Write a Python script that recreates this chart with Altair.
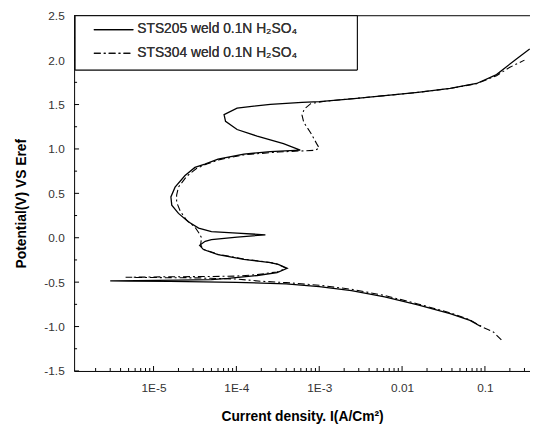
import altair as alt
import pandas as pd

# ---- data (current density in A/cm2, potential in V) ----
sts205_current = [0.0891, 0.0661, 0.0380, 0.0155, 0.00617, 0.00245, 0.00100, 3.98e-4, 1.0e-4,
                  1.58e-5, 5.0e-6, 3.0e-6, 6.3e-6, 2.0e-5, 5.0e-5, 7.9e-5, 1.78e-4, 3.1e-4,
                  4.1e-4, 3.2e-4, 2.57e-4, 1.23e-4, 6.0e-5, 4.0e-5, 3.6e-5, 4.2e-5, 5.0e-5,
                  1.02e-4, 2.24e-4, 1.02e-4, 5.0e-5, 3.5e-5, 2.63e-5, 2.0e-5, 1.66e-5, 1.62e-5,
                  1.82e-5, 2.4e-5, 3.16e-5, 4.17e-5, 6.0e-5, 1.23e-4, 2.57e-4, 5.9e-4, 3.7e-4,
                  1.78e-4, 1.02e-4, 7.4e-5, 7.1e-5, 1.02e-4, 2.57e-4, 6.2e-4, 1.0e-3, 2.45e-3,
                  6.17e-3, 0.0155, 0.038, 0.0794, 0.138, 0.24, 0.347]
sts205_potential = [-1.00, -0.93, -0.855, -0.755, -0.665, -0.595, -0.55, -0.52, -0.502,
                    -0.492, -0.488, -0.485, -0.482, -0.478, -0.472, -0.458, -0.425, -0.392,
                    -0.344, -0.30, -0.281, -0.244, -0.189, -0.133, -0.085, -0.04, -0.022,
                    0.008, 0.033, 0.052, 0.07, 0.108, 0.181, 0.274, 0.367, 0.46,
                    0.57, 0.70, 0.792, 0.83, 0.885, 0.941, 0.970, 0.986, 1.059,
                    1.144, 1.219, 1.311, 1.386, 1.459, 1.503, 1.525, 1.533, 1.563,
                    1.60, 1.637, 1.681, 1.737, 1.837, 2.014, 2.126]

sts304_current = [0.158, 0.126, 0.0955, 0.066, 0.038, 0.0155, 0.00617, 0.00245, 0.001,
                  3.98e-4, 2.0e-4, 1.0e-4, 3.16e-5, 1.0e-5, 4.6e-6, 1.26e-5, 4.0e-5, 1.0e-4,
                  1.78e-4, 3.1e-4, 4.0e-4, 3.2e-4, 2.57e-4, 1.23e-4, 6.0e-5, 4.0e-5, 3.7e-5,
                  3.8e-5, 3.5e-5, 3.16e-5, 2.5e-5, 2.1e-5, 1.9e-5, 1.9e-5, 2.0e-5, 2.5e-5,
                  3.3e-5, 4.4e-5, 6.3e-5, 1.26e-4, 3.2e-4, 8.9e-4, 1.0e-3, 9.3e-4, 7.9e-4,
                  6.5e-4, 6.2e-4, 6.6e-4, 7.9e-4, 1.12e-3, 2.45e-3, 6.17e-3, 0.0155, 0.038,
                  0.0794, 0.138, 0.20, 0.30]
sts304_potential = [-1.15, -1.06, -1.01, -0.925, -0.845, -0.745, -0.65, -0.58, -0.535,
                    -0.505, -0.49, -0.465, -0.452, -0.448, -0.445, -0.44, -0.437, -0.432,
                    -0.415, -0.385, -0.345, -0.30, -0.278, -0.24, -0.185, -0.13, -0.08,
                    0.0, 0.06, 0.12, 0.20, 0.30, 0.40, 0.48, 0.57, 0.69,
                    0.78, 0.83, 0.88, 0.935, 0.965, 0.985, 1.01, 1.06, 1.18,
                    1.30, 1.38, 1.45, 1.51, 1.535, 1.565, 1.60, 1.637, 1.681,
                    1.735, 1.825, 1.92, 2.0]

legend_labels = ["STS205 weld 0.1N H\u2082SO\u2084", "STS304 weld 0.1N H\u2082SO\u2084"]
x_title = "Current density. I(A/Cm\u00b2)"
y_title = "Potential(V) VS Eref"

x_major = [1e-5, 1e-4, 1e-3, 0.01, 0.1]
y_major = [-1.5, -1.0, -0.5, 0.0, 0.5, 1.0, 1.5, 2.0, 2.5]
y_minor = [-1.25, -0.75, -0.25, 0.25, 0.75, 1.25, 1.75, 2.25]

X_DOMAIN = [1.1e-6, 0.35]
Y_DOMAIN = [-1.5, 2.5]
x_minor = [k * 10.0 ** n for n in range(-6, 0) for k in range(2, 10)
           if X_DOMAIN[0] <= k * 10.0 ** n <= X_DOMAIN[1]]

W, H = 462, 360
FONT = "Liberation Sans"

df205 = pd.DataFrame({"current": sts205_current, "potential": sts205_potential,
                      "step": list(range(len(sts205_current)))})
df304 = pd.DataFrame({"current": sts304_current, "potential": sts304_potential,
                      "step": list(range(len(sts304_current)))})

xscale = alt.Scale(type="log", domain=X_DOMAIN, nice=False)
yscale = alt.Scale(domain=Y_DOMAIN, nice=False, zero=False)

x_axis = alt.Axis(values=x_major, title=x_title, grid=False, ticks=False, tickSize=0,
                  labelExpr="datum.value < 0.005 ? '1E' + round(log(datum.value)/LN10) : '' + datum.value",
                  labelPadding=12, labelFontSize=12, labelColor="#333", labelFont=FONT,
                  titleFont=FONT, titleFontSize=14, titleFontWeight="bold", titleColor="black",
                  titleY=46, titleBaseline="middle", domainColor="black", labelFlush=False)
y_axis = alt.Axis(values=y_major, title=y_title, grid=False, ticks=False, tickSize=0,
                  labelExpr="replace(format(datum.value, '.1f'), '\u2212', '-')",
                  labelPadding=10, labelFontSize=12, labelColor="#333", labelFont=FONT,
                  titleFont=FONT, titleFontSize=14, titleFontWeight="bold", titleColor="black",
                  titleX=-53, titleY=190, titleBaseline="middle", titleAlign="center",
                  domainColor="black", labelFlush=False)

line205 = alt.Chart(df205).mark_line(color="black", strokeWidth=1.3, clip=True).encode(
    x=alt.X("current:Q", scale=xscale, axis=x_axis),
    y=alt.Y("potential:Q", scale=yscale, axis=y_axis),
    order="step:Q",
)
line304 = alt.Chart(df304).mark_line(color="black", strokeWidth=1.1, strokeDash=[7, 3, 2, 3],
                                     clip=True).encode(
    x=alt.X("current:Q", scale=xscale, axis=x_axis),
    y=alt.Y("potential:Q", scale=yscale, axis=y_axis),
    order="step:Q",
)

# inward axis ticks
xmaj = alt.Chart(pd.DataFrame({"v": x_major})).mark_rule(color="black", strokeWidth=1).encode(
    x=alt.X("v:Q", scale=xscale, axis=x_axis), y=alt.value(H), y2=alt.value(H - 5))
xmin = alt.Chart(pd.DataFrame({"v": x_minor})).mark_rule(color="black", strokeWidth=1).encode(
    x=alt.X("v:Q", scale=xscale, axis=x_axis), y=alt.value(H), y2=alt.value(H - 3))
ymaj = alt.Chart(pd.DataFrame({"v": y_major})).mark_rule(color="black", strokeWidth=1).encode(
    y=alt.Y("v:Q", scale=yscale, axis=y_axis), x=alt.value(0), x2=alt.value(5))
ymin = alt.Chart(pd.DataFrame({"v": y_minor})).mark_rule(color="black", strokeWidth=1).encode(
    y=alt.Y("v:Q", scale=yscale, axis=y_axis), x=alt.value(0), x2=alt.value(3))

top_frame = alt.Chart(pd.DataFrame({"v": [0]})).mark_rule(color="black", strokeWidth=1).encode(
    x=alt.value(0), x2=alt.value(W), y=alt.value(0))

# legend box
leg_df = pd.DataFrame({"label": legend_labels})
leg_box = alt.Chart(leg_df).mark_rect(fill="white", stroke="black", strokeWidth=1).encode(
    x=alt.value(1), x2=alt.value(287), y=alt.value(0), y2=alt.value(55))
leg_l1 = alt.Chart(leg_df).mark_rule(color="black", strokeWidth=1.3).encode(
    x=alt.value(20), x2=alt.value(60), y=alt.value(14))
leg_l2 = alt.Chart(leg_df).mark_rule(color="black", strokeWidth=1.1, strokeDash=[7, 3, 2, 3]).encode(
    x=alt.value(20), x2=alt.value(60), y=alt.value(38))
leg_t1 = alt.Chart(leg_df).mark_text(align="left", baseline="middle", fontSize=14, font=FONT,
                                     color="#333").encode(
    x=alt.value(64), y=alt.value(14), text=alt.value(legend_labels[0]))
leg_t2 = alt.Chart(leg_df).mark_text(align="left", baseline="middle", fontSize=14, font=FONT,
                                     color="#333").encode(
    x=alt.value(64), y=alt.value(38), text=alt.value(legend_labels[1]))

chart = alt.layer(
    line304, line205, xmaj, xmin, ymaj, ymin, top_frame,
    leg_box, leg_l1, leg_l2, leg_t1, leg_t2,
).properties(
    width=W, height=H,
    autosize=alt.AutoSizeParams(type="none"),
    padding={"left": 67, "top": 5, "right": 0, "bottom": 57},
    background="white",
).configure_view(stroke=None)

chart.save("out.html", embed_options={"renderer": "svg", "actions": False})
